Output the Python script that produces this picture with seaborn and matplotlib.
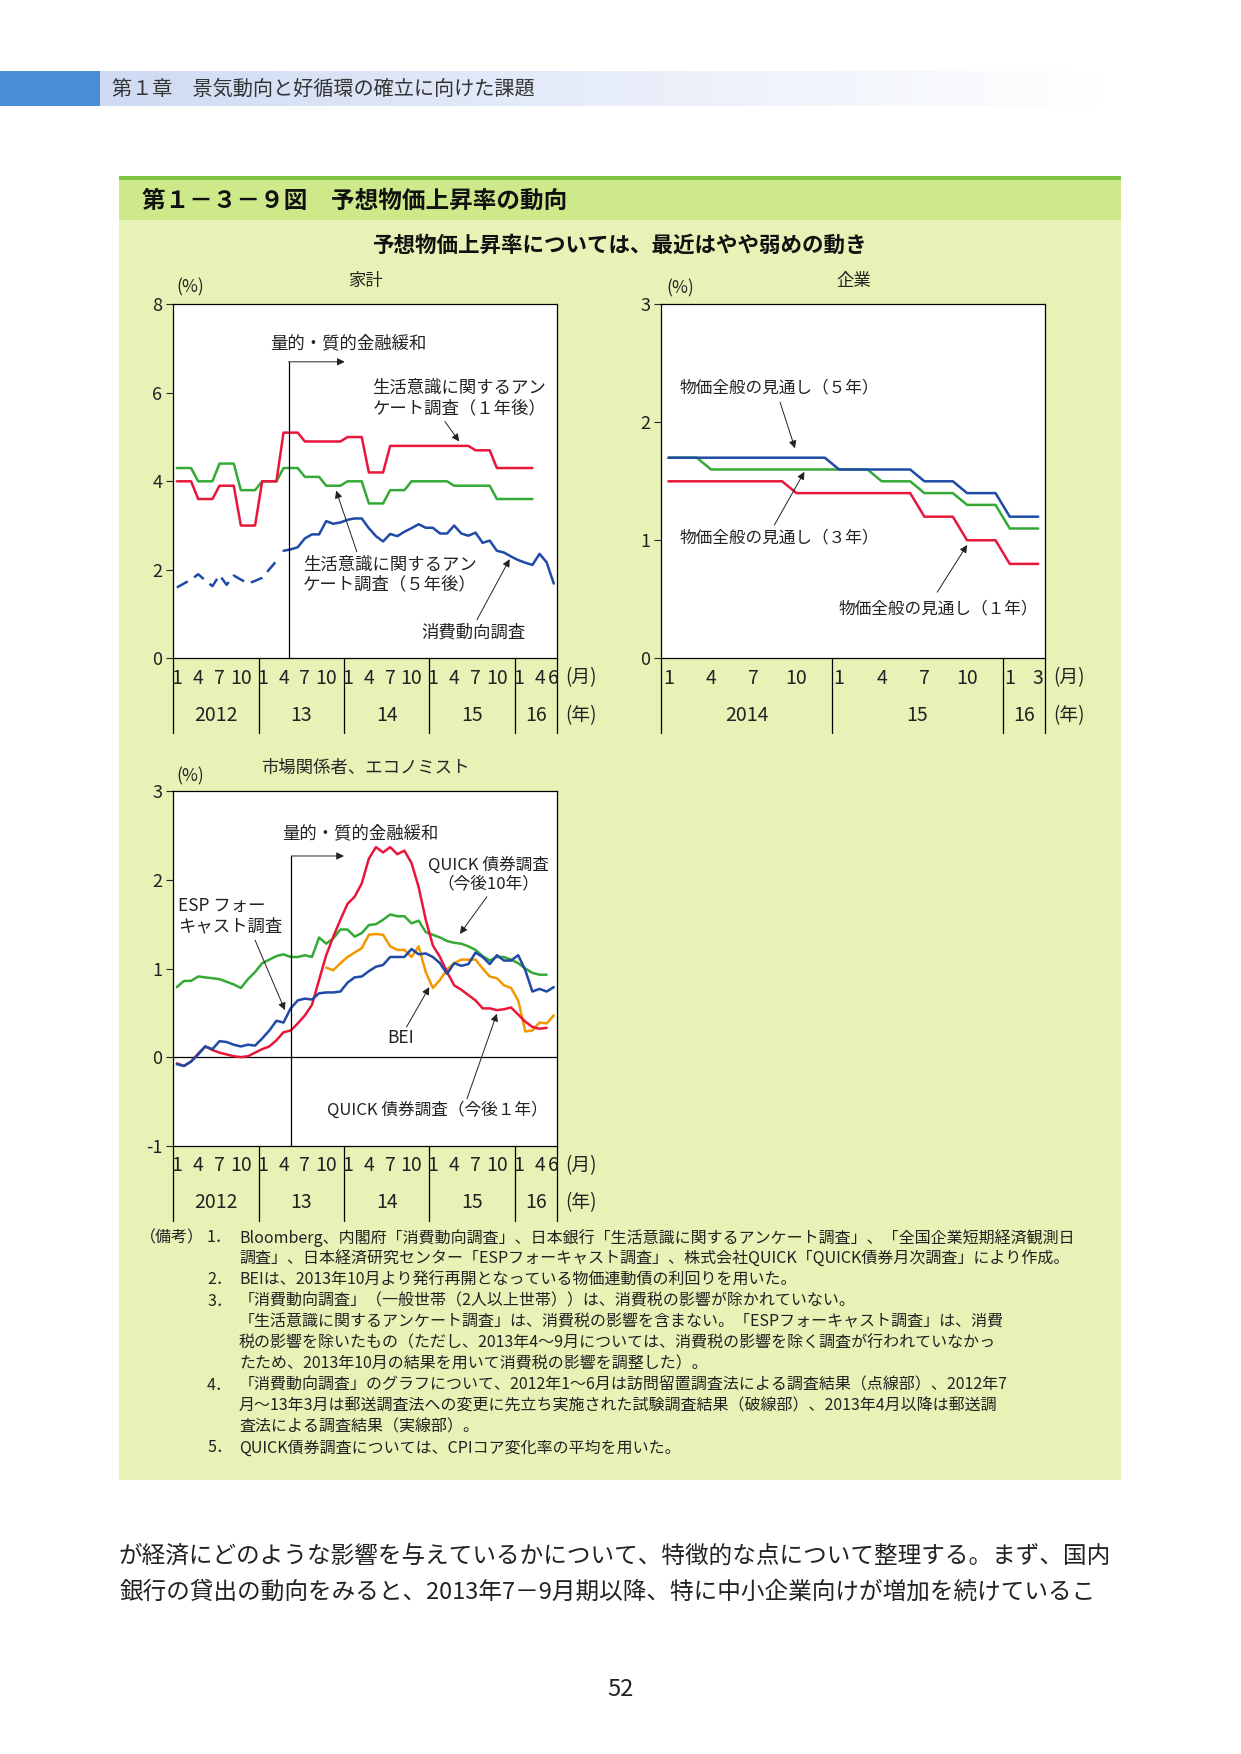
import numpy as np
import pandas as pd
import matplotlib
matplotlib.use('Agg')
import matplotlib.pyplot as plt
import seaborn as sns
from matplotlib.patches import Rectangle
from matplotlib.colors import LinearSegmentedColormap

# ---- data ----
# 家計 (monthly, starting 2012-01)
hh_1y = [4.0, 4.0, 4.0, 3.6, 3.6, 3.6, 3.9, 3.9, 3.9, 3.0, 3.0, 3.0,
         4.0, 4.0, 4.0, 5.1, 5.1, 5.1, 4.9, 4.9, 4.9, 4.9, 4.9, 4.9,
         5.0, 5.0, 5.0, 4.2, 4.2, 4.2, 4.8, 4.8, 4.8, 4.8, 4.8, 4.8,
         4.8, 4.8, 4.8, 4.8, 4.8, 4.8, 4.7, 4.7, 4.7, 4.3, 4.3, 4.3,
         4.3, 4.3, 4.3]
hh_5y = [4.3, 4.3, 4.3, 4.0, 4.0, 4.0, 4.4, 4.4, 4.4, 3.8, 3.8, 3.8,
         4.0, 4.0, 4.0, 4.3, 4.3, 4.3, 4.1, 4.1, 4.1, 3.9, 3.9, 3.9,
         4.0, 4.0, 4.0, 3.5, 3.5, 3.5, 3.8, 3.8, 3.8, 4.0, 4.0, 4.0,
         4.0, 4.0, 4.0, 3.9, 3.9, 3.9, 3.9, 3.9, 3.9, 3.6, 3.6, 3.6,
         3.6, 3.6, 3.6]
# 消費動向調査: 2012-01..2013-03 (点線・破線部), 2013-04.. (実線部)
hh_cons_old = [1.60, 1.69, 1.78, 1.90, 1.76, 1.63, 1.88, 1.66, 1.87, 1.78,
               1.69, 1.75, 1.82, 2.01, 2.20]
hh_cons = [2.43, 2.46, 2.51, 2.71, 2.80, 2.80, 3.10, 3.04, 3.07, 3.13,
           3.16, 3.16, 2.94, 2.76, 2.64, 2.81, 2.76, 2.86, 2.94, 3.03,
           2.95, 2.95, 2.82, 2.82, 3.00, 2.82, 2.77, 2.84, 2.61, 2.66,
           2.43, 2.39, 2.30, 2.22, 2.16, 2.11, 2.36, 2.17, 1.69]

# 企業 (monthly, starting 2014-01)
firm_1y = [1.5, 1.5, 1.5, 1.5, 1.5, 1.5, 1.5, 1.5, 1.5, 1.4, 1.4, 1.4,
           1.4, 1.4, 1.4, 1.4, 1.4, 1.4, 1.2, 1.2, 1.2, 1.0, 1.0, 1.0,
           0.8, 0.8, 0.8]
firm_3y = [1.7, 1.7, 1.7, 1.6, 1.6, 1.6, 1.6, 1.6, 1.6, 1.6, 1.6, 1.6,
           1.6, 1.6, 1.6, 1.5, 1.5, 1.5, 1.4, 1.4, 1.4, 1.3, 1.3, 1.3,
           1.1, 1.1, 1.1]
firm_5y = [1.7, 1.7, 1.7, 1.7, 1.7, 1.7, 1.7, 1.7, 1.7, 1.7, 1.7, 1.7,
           1.6, 1.6, 1.6, 1.6, 1.6, 1.6, 1.5, 1.5, 1.5, 1.4, 1.4, 1.4,
           1.2, 1.2, 1.2]

# 市場関係者、エコノミスト (monthly, starting 2012-01; BEI from 2013-10)
esp = [-0.08, -0.10, -0.05, 0.03, 0.12, 0.09, 0.18, 0.17, 0.14, 0.12,
       0.14, 0.13, 0.21, 0.30, 0.41, 0.39, 0.55, 0.64, 0.66, 0.65,
       0.72, 0.73, 0.73, 0.74, 0.84, 0.90, 0.91, 0.97, 1.02, 1.04,
       1.13, 1.13, 1.13, 1.22, 1.16, 1.17, 1.13, 1.06, 0.94, 1.06,
       1.03, 1.05, 1.18, 1.13, 1.05, 1.15, 1.09, 1.09, 1.15, 0.98,
       0.74, 0.77, 0.74, 0.79]
quick_1y = [-0.07, -0.10, -0.05, 0.04, 0.12, 0.08, 0.05, 0.03, 0.01, 0.00,
            0.01, 0.05, 0.09, 0.12, 0.19, 0.28, 0.30, 0.38, 0.47, 0.59,
            0.87, 1.15, 1.36, 1.55, 1.73, 1.81, 1.96, 2.24, 2.37, 2.31,
            2.37, 2.29, 2.33, 2.19, 1.92, 1.55, 1.26, 1.13, 0.96, 0.81,
            0.76, 0.70, 0.64, 0.55, 0.55, 0.53, 0.54, 0.56, 0.48, 0.40,
            0.34, 0.32, 0.33]
quick_10y = [0.79, 0.86, 0.86, 0.91, 0.90, 0.89, 0.88, 0.85, 0.82, 0.78,
             0.88, 0.96, 1.06, 1.10, 1.14, 1.16, 1.13, 1.13, 1.15, 1.13,
             1.35, 1.28, 1.34, 1.44, 1.44, 1.36, 1.40, 1.49, 1.50, 1.55,
             1.61, 1.59, 1.59, 1.51, 1.54, 1.41, 1.38, 1.35, 1.31, 1.29,
             1.28, 1.25, 1.21, 1.14, 1.09, 1.13, 1.13, 1.10, 1.06, 1.00,
             0.95, 0.93, 0.93]
bei = [1.01, 0.98, 1.06, 1.13, 1.18, 1.23, 1.38, 1.39, 1.38, 1.25,
       1.21, 1.21, 1.13, 1.25, 0.96, 0.78, 0.87, 0.99, 1.06, 1.10,
       1.10, 1.10, 1.00, 0.91, 0.89, 0.81, 0.78, 0.64, 0.29, 0.30,
       0.39, 0.38, 0.47]

# x-axis labels
long_years = ['2012', '13', '14', '15', '16']
long_year_len = [12, 12, 12, 12, 6]
long_months = [[1, 4, 7, 10], [1, 4, 7, 10], [1, 4, 7, 10], [1, 4, 7, 10], [1, 4, 6]]
firm_years = ['2014', '15', '16']
firm_year_len = [12, 12, 3]
firm_months = [[1, 4, 7, 10], [1, 4, 7, 10], [1, 3]]

notes = [
    ('（備考）', '1．', 'Bloomberg、内閣府「消費動向調査」、日本銀行「生活意識に関するアンケート調査」、「全国企業短期経済観測日'),
    ('', '', '調査」、日本経済研究センター「ESPフォーキャスト調査」、株式会社QUICK「QUICK債券月次調査」により作成。'),
    ('', '2．', 'BEIは、2013年10月より発行再開となっている物価連動債の利回りを用いた。'),
    ('', '3．', '「消費動向調査」（一般世帯（2人以上世帯））は、消費税の影響が除かれていない。'),
    ('', '', '「生活意識に関するアンケート調査」は、消費税の影響を含まない。「ESPフォーキャスト調査」は、消費'),
    ('', '', '税の影響を除いたもの（ただし、2013年4～9月については、消費税の影響を除く調査が行われていなかっ'),
    ('', '', 'たため、2013年10月の結果を用いて消費税の影響を調整した）。'),
    ('', '4．', '「消費動向調査」のグラフについて、2012年1～6月は訪問留置調査法による調査結果（点線部）、2012年7'),
    ('', '', '月～13年3月は郵送調査法への変更に先立ち実施された試験調査結果（破線部）、2013年4月以降は郵送調'),
    ('', '', '査法による調査結果（実線部）。'),
    ('', '5．', 'QUICK債券調査については、CPIコア変化率の平均を用いた。'),
]
body = ['が経済にどのような影響を与えているかについて、特徴的な点について整理する。まず、国内',
        '銀行の貸出の動向をみると、2013年7－9月期以降、特に中小企業向けが増加を続けているこ']

RED = '#e8173a'
GREEN = '#35a935'
BLUE = '#1f4aa6'
ORANGE = '#f39800'
PALE = '#e6f2b6'

sns.set_theme(style='white')
plt.rcParams['font.family'] = ['Noto Sans CJK JP', 'DejaVu Sans']
plt.rcParams['axes.unicode_minus'] = False

W, H = 1241, 1754
fig = plt.figure(figsize=(W / 100, H / 100), dpi=100)
fig.patch.set_facecolor('white')


def box(x0, y0, x1, y1):
    return [x0 / W, 1 - y1 / H, (x1 - x0) / W, (y1 - y0) / H]


def rect(x0, y0, x1, y1, color):
    fig.add_artist(Rectangle((x0 / W, 1 - y1 / H), (x1 - x0) / W, (y1 - y0) / H,
                             transform=fig.transFigure, color=color, lw=0, zorder=0))


def ftext(x, y, s, **kw):
    fig.text(x / W, 1 - y / H, s, **kw)


def month_x(start, n, origin):
    off = (pd.Period(start, 'M') - pd.Period(origin, 'M')).n
    return np.arange(off, off + n) + 0.5


def draw(ax, start, origin, vals, color, **kw):
    df = pd.DataFrame({'x': month_x(start, len(vals), origin), 'y': vals})
    sns.lineplot(data=df, x='x', y='y', ax=ax, color=color, linewidth=1.8,
                 estimator=None, sort=False, **kw)


def setup(ax, nmonths, ylim, yticks, years, year_len, months):
    ax.set_facecolor('white')
    ax.set_xlim(0, nmonths)
    ax.set_ylim(*ylim)
    ax.set_yticks(yticks)
    ax.set_xticks([])
    ax.set_xlabel('')
    ax.set_ylabel('')
    ax.tick_params(axis='y', left=True, direction='out', length=5, width=0.8,
                   labelsize=13, pad=3, labelcolor='#222')
    for s in ax.spines.values():
        s.set_color('black')
        s.set_linewidth(0.9)
    tr = ax.get_xaxis_transform()
    depth = 75 / 354
    start = 0
    bounds = [0]
    for label, n, ms in zip(years, year_len, months):
        for m in ms:
            ax.text(start + m - 0.5, -0.056, str(m), transform=tr, ha='center',
                    va='center', fontsize=14, color='#222')
        ax.text(start + n / 2, -0.161, label, transform=tr, ha='center',
                va='center', fontsize=14, color='#222')
        start += n
        bounds.append(start)
    for b in bounds:
        ax.plot([b, b], [0, -depth], transform=tr, color='black', lw=0.9, clip_on=False)
    ax.text(1.062, -0.056, '(月)', transform=ax.transAxes, ha='center', va='center',
            fontsize=13.5, color='#222')
    ax.text(1.062, -0.161, '(年)', transform=ax.transAxes, ha='center', va='center',
            fontsize=13.5, color='#222')


def arrow(ax, tail, head):
    ax.annotate('', xy=head, xytext=tail,
                arrowprops=dict(arrowstyle='-|>', color='#222', lw=0.7,
                                shrinkA=0, shrinkB=0, mutation_scale=11))


def note(ax, x, y, s, **kw):
    kw.setdefault('fontsize', 12)
    ax.text(x, y, s, color='#222', va='center', linespacing=1.15, **kw)


# ---- page decoration ----
rect(0, 71, 100, 106, '#4a8fd6')
ax_g = fig.add_axes(box(100, 71, 1105, 106))
ax_g.imshow(np.linspace(0, 1, 256)[None, :], aspect='auto',
            cmap=LinearSegmentedColormap.from_list('g', ['#cfdbf3', '#ffffff']))
ax_g.axis('off')
ftext(112, 89, '第１章　景気動向と好循環の確立に向けた課題', fontsize=14.5,
      color='#333', va='center')

rect(119, 176, 1121, 180, '#7dc544')
rect(119, 180, 1121, 220, '#cde98a')
rect(119, 220, 1121, 1480, PALE)
ftext(142, 201, '第１－３－９図　予想物価上昇率の動向', fontsize=17,
      fontweight='bold', color='#111', va='center')
ftext(620, 245, '予想物価上昇率については、最近はやや弱めの動き', fontsize=15.5,
      fontweight='bold', color='#111', va='center', ha='center')

# ---- 家計 ----
ax1 = fig.add_axes(box(173.3, 304.3, 557.3, 658.3))
draw(ax1, '2012-01', '2012-01', hh_5y, GREEN)
draw(ax1, '2012-01', '2012-01', hh_1y, RED)
draw(ax1, '2012-01', '2012-01', hh_cons_old, BLUE, linestyle=(0, (5, 3)))
draw(ax1, '2013-04', '2012-01', hh_cons, BLUE)
setup(ax1, 54, (0, 8), [0, 2, 4, 6, 8], long_years, long_year_len, long_months)
ax1.text(0.043, 1.049, '(%)', transform=ax1.transAxes, ha='center', va='center', fontsize=12.5)
ax1.text(0.5, 1.066, '家計', transform=ax1.transAxes, ha='center', va='center', fontsize=12.5)
ax1.plot([16.2, 16.2], [0, 6.7], color='black', lw=0.9)
arrow(ax1, (16.2, 6.7), (24.1, 6.7))
note(ax1, 24.6, 7.13, '量的・質的金融緩和', ha='center', fontsize=12.5)
note(ax1, 28.0, 5.88, '生活意識に関するアン\nケート調査（１年後）', ha='left', fontsize=12.5)
arrow(ax1, (38.2, 5.35), (40.2, 4.90))
note(ax1, 18.2, 1.89, '生活意識に関するアン\nケート調査（５年後）', ha='left', fontsize=12.5)
arrow(ax1, (25.8, 2.41), (22.9, 3.79))
note(ax1, 42.2, 0.58, '消費動向調査', ha='center', fontsize=12.5)
arrow(ax1, (42.7, 0.87), (47.3, 2.24))

# ---- 企業 ----
ax2 = fig.add_axes(box(661.3, 304.3, 1045.3, 658.3))
draw(ax2, '2014-01', '2014-01', firm_3y, GREEN)
draw(ax2, '2014-01', '2014-01', firm_5y, BLUE)
draw(ax2, '2014-01', '2014-01', firm_1y, RED)
setup(ax2, 27, (0, 3), [0, 1, 2, 3], firm_years, firm_year_len, firm_months)
ax2.text(0.049, 1.046, '(%)', transform=ax2.transAxes, ha='center', va='center', fontsize=12.5)
ax2.text(0.5, 1.066, '企業', transform=ax2.transAxes, ha='center', va='center', fontsize=12.5)
note(ax2, 1.31, 2.29, '物価全般の見通し（５年）', ha='left')
arrow(ax2, (8.35, 2.17), (9.40, 1.78))
note(ax2, 1.31, 1.02, '物価全般の見通し（３年）', ha='left')
arrow(ax2, (7.95, 1.13), (10.06, 1.58))
note(ax2, 12.45, 0.415, '物価全般の見通し（１年）', ha='left')
arrow(ax2, (19.4, 0.56), (21.5, 0.96))

# ---- 市場関係者、エコノミスト ----
ax3 = fig.add_axes(box(173.3, 791.3, 557.3, 1145.7))
ax3.axhline(0, color='black', lw=0.9)
draw(ax3, '2012-01', '2012-01', quick_10y, GREEN)
draw(ax3, '2013-10', '2012-01', bei, ORANGE)
draw(ax3, '2012-01', '2012-01', quick_1y, RED)
draw(ax3, '2012-01', '2012-01', esp, BLUE)
setup(ax3, 54, (-1, 3), [-1, 0, 1, 2, 3], long_years, long_year_len, long_months)
ax3.text(0.043, 1.043, '(%)', transform=ax3.transAxes, ha='center', va='center', fontsize=12.5)
ax3.text(0.5, 1.066, '市場関係者、エコノミスト', transform=ax3.transAxes, ha='center',
         va='center', fontsize=12.5)
ax3.plot([16.6, 16.6], [-1, 2.27], color='black', lw=0.9)
arrow(ax3, (16.6, 2.27), (24.0, 2.27))
note(ax3, 26.25, 2.53, '量的・質的金融緩和', ha='center', fontsize=12.5)
note(ax3, 0.7, 1.59, 'ESP フォー\nキャスト調査', ha='left', fontsize=12.5)
arrow(ax3, (11.5, 1.32), (15.7, 0.53))
note(ax3, 44.35, 2.06, 'QUICK 債券調査\n（今後10年）', ha='center', multialignment='center')
arrow(ax3, (44.1, 1.81), (40.3, 1.39))
note(ax3, 32.0, 0.22, 'BEI', ha='center', fontsize=12.5)
arrow(ax3, (32.8, 0.34), (36.0, 0.79))
note(ax3, 21.6, -0.60, 'QUICK 債券調査（今後１年）', ha='left')
arrow(ax3, (41.3, -0.47), (45.5, 0.49))

# ---- notes ----
for i, (head, num, line) in enumerate(notes):
    y = 1238 + 21 * i
    if head:
        ftext(140, y, head, fontsize=11.5, va='center', color='#222')
    if num:
        ftext(207, y, num, fontsize=11.5, va='center', color='#222')
    ftext(239, y, line, fontsize=11.5, va='center', color='#222')

for i, line in enumerate(body):
    ftext(119, 1556 + 36 * i, line, fontsize=17, va='center', color='#222')
ftext(620, 1689, '52', fontsize=17, va='center', ha='center', color='#222')

fig.savefig('out.png', dpi=100, facecolor=fig.get_facecolor())
